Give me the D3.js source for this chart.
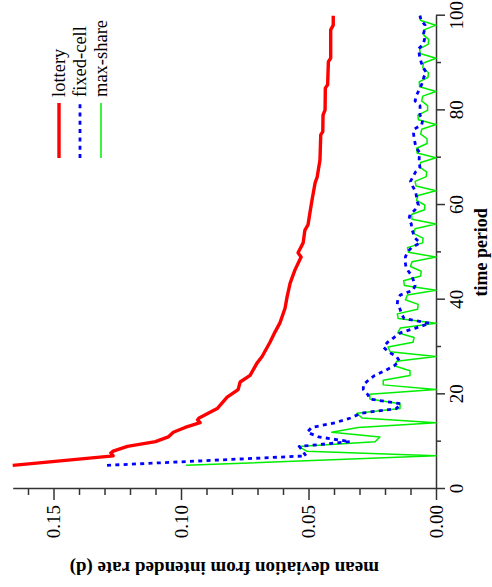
<!DOCTYPE html>
<html>
<head>
<meta charset="utf-8">
<script src="https://cdnjs.cloudflare.com/ajax/libs/d3/7.8.5/d3.min.js"></script>
<style>
body{margin:0;background:#fff;}
svg{display:block;}
svg text{font-family:"Liberation Serif","Times New Roman",Times,serif;}
</style>
</head>
<body>
<div id="chart"></div>
<script>
// data (time period -> mean deviation d)
var lotteryT = [5, 7, 7.6, 8, 9, 10, 11, 12, 13, 14, 14.6, 15, 17, 19.4, 21, 22.6, 24, 26.6, 28, 31,
  33.2, 35.1, 38.2, 40.6, 43.5, 46.3, 49, 49.9, 52, 54.7, 55.8, 58.5, 61.1, 64.7, 65.9, 69.5,
  74.8, 75.5, 79, 80.1, 84.7, 85.4, 90.3, 91, 97, 98, 100];
var lotteryD = [0.166, 0.1266, 0.1275, 0.1266, 0.121, 0.110, 0.105, 0.103, 0.0984, 0.0925, 0.0935, 0.0929,
  0.0858, 0.0819, 0.0776, 0.0768, 0.0729, 0.0702, 0.0682, 0.0651, 0.0631, 0.0612, 0.0592, 0.0584, 0.0572,
  0.0553, 0.0529, 0.0541, 0.0521, 0.0514, 0.0502, 0.0494, 0.0486, 0.0474, 0.0466, 0.0455, 0.0452, 0.0444,
  0.0443, 0.0435, 0.0434, 0.0425, 0.0422, 0.0413, 0.0413, 0.0403, 0.0403];

var periods = [5].concat(d3.range(7, 101));
var fixedCell = [0.129,
  0.051, 0.0523, 0.0536, 0.0337, 0.046, 0.0505, 0.0488, 0.0396, 0.0335, 0.0295,
  0.0155, 0.0138, 0.0259, 0.0268, 0.0285, 0.0285, 0.0265, 0.024, 0.020, 0.0165,
  0.0143, 0.0155, 0.0188, 0.0206, 0.019, 0.0165, 0.014, 0.008, 0.0025, 0.0125,
  0.0135, 0.0141, 0.0152, 0.015, 0.014, 0.009, 0.0082, 0.0088, 0.0095, 0.0108,
  0.0118, 0.0121, 0.012, 0.0113, 0.0096, 0.0063, 0.0082, 0.0089, 0.0095, 0.0097,
  0.0106, 0.0102, 0.0082, 0.0069, 0.0076, 0.0077, 0.0082, 0.0092, 0.010, 0.009,
  0.008, 0.0063, 0.0066, 0.0066, 0.0063, 0.0076, 0.0082, 0.0085, 0.0088, 0.0086,
  0.0056, 0.0052, 0.0063, 0.0062, 0.0063, 0.0082, 0.0078, 0.0069, 0.006, 0.0052,
  0.0048, 0.0038, 0.005, 0.0057, 0.0063, 0.0066, 0.0069, 0.005, 0.0045, 0.005,
  0.0045, 0.0043, 0.0058, 0.0063];
var maxShare = [0.098,
  0, 0.0507, 0.054, 0.0239, 0.022, 0.0409, 0.0305, 0, 0.029, 0.031,
  0.0141, 0.0141, 0.0259, 0.026, 0, 0.0207, 0.0207, 0.0102, 0.0102, 0.0161,
  0.0154, 0, 0.018, 0.0188, 0.009, 0.0086, 0.015, 0.014, 0, 0.0148,
  0.0152, 0.0072, 0.007, 0.012, 0.0112, 0, 0.0124, 0.0127, 0.006, 0.0058,
  0.010, 0.0094, 0, 0.0108, 0.0112, 0.0052, 0.0051, 0.0088, 0.0082, 0,
  0.0094, 0.0096, 0.0045, 0.0044, 0.0076, 0.0071, 0, 0.0078, 0.0082, 0.0038,
  0.0037, 0.0064, 0.006, 0, 0.0074, 0.0076, 0.0035, 0.0035, 0.006, 0.0056,
  0, 0.0069, 0.0071, 0.0033, 0.0033, 0.0056, 0.0052, 0, 0.0064, 0.0066,
  0.0031, 0.003, 0.0052, 0.0049, 0, 0.0062, 0.0064, 0.003, 0.0029, 0.005,
  0.0047, 0, 0.006, 0.0062];

var seriesNames = ['lottery', 'fixed-cell', 'max-share'];
var timeTicks = [0, 20, 40, 60, 80, 100];
var timeMinor = [10, 30, 50, 70, 90];
var devTicks = [0, 0.05, 0.10, 0.15];
var devMinor = [0.01, 0.02, 0.03, 0.04, 0.06, 0.07, 0.08, 0.09, 0.11, 0.12, 0.13, 0.14, 0.16];

var W = 492, H = 587;

var svg = d3.select('#chart').append('svg').attr('width', W).attr('height', H);
// whole figure is printed turned a quarter turn to the left
var g = svg.append('g').attr('transform', 'translate(0,' + H + ') rotate(-90)');

var x = d3.scaleLinear().domain([0, 100]).range([98, 571.3]);
var y = d3.scaleLinear().domain([0, 0.166]).range([436, 12.7]);

function styleAxis(sel) {
  sel.attr('font-family', null).attr('font-size', 19);
  sel.selectAll('.domain').attr('stroke', '#333').attr('stroke-width', 1.5);
  sel.selectAll('.tick line').attr('stroke', '#333').attr('stroke-width', 1.5);
  sel.selectAll('.tick text').attr('fill', '#000');
}

var xa = g.append('g').attr('transform', 'translate(0,436)')
  .call(d3.axisBottom(x).tickValues(timeTicks).tickSize(9).tickPadding(5).tickSizeOuter(0).tickFormat(d3.format('d')));
styleAxis(xa);
var xm = g.append('g').attr('transform', 'translate(0,436)')
  .call(d3.axisBottom(x).tickValues(timeMinor).tickSize(5).tickFormat(''));
xm.select('.domain').remove();
styleAxis(xm);

var ya = g.append('g').attr('transform', 'translate(98,0)')
  .call(d3.axisLeft(y).tickValues(devTicks).tickSize(11).tickPadding(5).tickSizeOuter(0).tickFormat(d3.format('.2f')));
styleAxis(ya);
var ym = g.append('g').attr('transform', 'translate(98,0)')
  .call(d3.axisLeft(y).tickValues(devMinor).tickSize(6).tickFormat(''));
ym.select('.domain').remove();
styleAxis(ym);

var line = d3.line().x(function(d) { return x(d[0]); }).y(function(d) { return y(d[1]); });

var styles = [
  {color: '#ff0000', width: 3.4, dash: null},
  {color: '#0000ff', width: 2.8, dash: '4,4.3'},
  {color: '#00ee00', width: 1.5, dash: null}
];
var lotteryPts = lotteryT.map(function(t, i) { return [t, lotteryD[i]]; });
var fixedPts = periods.map(function(t, i) { return [t, fixedCell[i]]; });
var maxPts = periods.map(function(t, i) { return [t, maxShare[i]]; });
var allSeries = [lotteryPts, fixedPts, maxPts];

// green first, then blue, red on top
[2, 1, 0].forEach(function(i) {
  var st = styles[i];
  g.append('path').datum(allSeries[i])
    .attr('d', line)
    .attr('fill', 'none')
    .attr('stroke', st.color)
    .attr('stroke-width', st.width)
    .attr('stroke-linejoin', 'round')
    .attr('stroke-dasharray', st.dash);
});

// legend
seriesNames.forEach(function(name, i) {
  var st = styles[i];
  var v = 59 + 21 * i;
  g.append('line').attr('x1', 429).attr('x2', 484).attr('y1', v).attr('y2', v)
    .attr('stroke', st.color).attr('stroke-width', st.width).attr('stroke-dasharray', st.dash);
  g.append('text').attr('x', 490).attr('y', v).attr('dy', '0.35em')
    .attr('font-size', 18.5).text(name);
});

// axis titles
g.append('text').attr('x', x(50)).attr('y', 487).attr('text-anchor', 'middle')
  .attr('font-size', 18).attr('font-weight', 'bold')
  .text('time period');
g.append('text').attr('transform', 'translate(25,' + y(0.083) + ') rotate(-90)')
  .attr('text-anchor', 'middle')
  .attr('font-size', 19).attr('font-weight', 'bold')
  .text('mean deviation from intended rate (d)');
</script>
</body>
</html>
